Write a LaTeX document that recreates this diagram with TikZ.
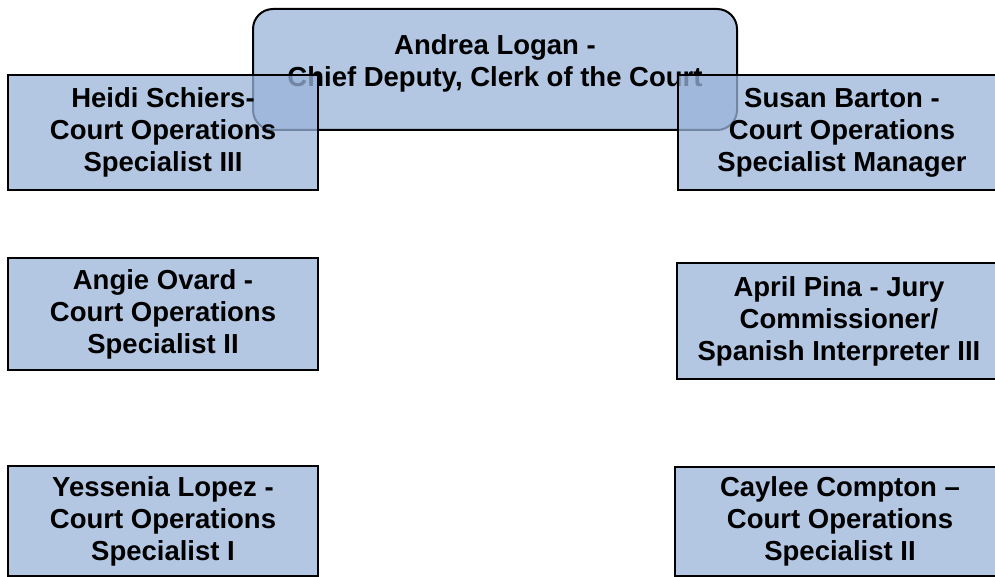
\documentclass[tikz,border=0pt]{standalone}
\usepackage{fontspec}
\setmainfont{Liberation Sans}
\usepackage{tikz}
\usetikzlibrary{positioning}

\definecolor{boxblue}{RGB}{179,199,227}
\definecolor{boxtint}{RGB}{154,180,218}

\begin{document}
\begin{tikzpicture}
			[
				x=1pt, y=-1pt,
				align=center,
				font=\fontsize{27.5}{32}\selectfont\bfseries,
				chief/.style={draw=black, line width=2pt, fill=boxblue, rounded corners=20pt, minimum width=484pt, minimum height=121pt},
				staff/.style={draw=black, line width=2pt, fill=boxtint, fill opacity=0.75, text opacity=1, draw opacity=1, inner sep=0pt},
				chieflabel/.style={font=\fontsize{27.5}{32}\selectfont\bfseries, align=center, yshift=6pt}
			]

			\useasboundingbox (0,0) rectangle (995,577);
			\clip (0,0) rectangle (995,577);

			% head of the office
			\node[chief, label={[chieflabel, name=chiefname]center:Andrea Logan -\\Chief Deputy, Clerk of the Court}] (chief) at ( 495.0,  69.5 ) {};

			% left column
			\node[staff, minimum width=310pt, minimum height=115pt] (heidi) at ( 163.0, 132.5 ) {Heidi Schiers-\\Court Operations\\Specialist III};
			\node[staff, minimum width=310pt, minimum height=112pt] (angie) at ( 163.0, 314.0 ) {Angie Ovard -\\Court Operations\\Specialist II};
			\node[staff, minimum width=310pt, minimum height=110pt] (yessenia) at ( 163.0, 521.0 ) {Yessenia Lopez -\\Court Operations\\Specialist I};

			% right column
			\node[staff, minimum width=328pt, minimum height=115pt] (susan) at ( 842.0, 132.5 ) {Susan Barton -\\Court Operations\\Specialist Manager};
			\node[staff, minimum width=324pt, minimum height=116pt] (april) at ( 839.0, 321.0 ) {April Pina - Jury\\Commissioner/\\Spanish Interpreter III};
			\node[staff, minimum width=330pt, minimum height=109pt] (caylee) at ( 840.0, 521.5 ) {Caylee Compton –\\Court Operations\\Specialist II};

		\end{tikzpicture}
\end{document}
